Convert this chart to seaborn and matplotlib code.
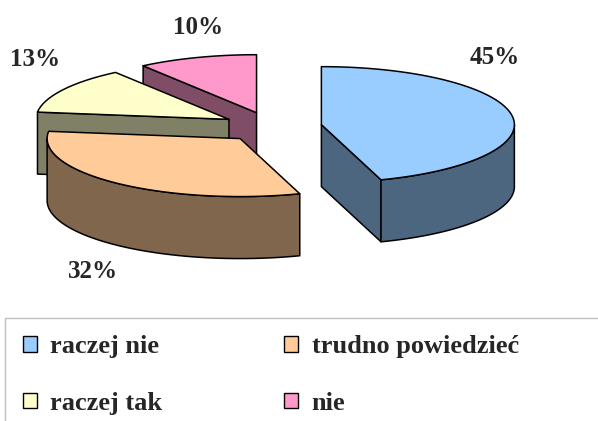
import numpy as np
import matplotlib
matplotlib.use("Agg")
import matplotlib.pyplot as plt
from matplotlib.patches import Polygon, Rectangle, Patch
import seaborn as sns

# data
categories = ["raczej nie", "trudno powiedzieć", "raczej tak", "nie"]
values = [45, 32, 13, 10]
pct_labels = ["45%", "32%", "13%", "10%"]
top_colors = ["#99CCFF", "#FFCC99", "#FFFFCC", "#FF99CC"]
side_colors = ["#4D6680", "#80664D", "#808066", "#804D66"]

# layout (pixels)
W, H = 598, 421
CX, CY = 272, 127        # pie centre
RX, RY = 193, 58         # ellipse radii
DEPTH = 62               # thickness
EXPLODE = 50             # radial explode distance
LABEL_XY = [(495, 57), (93, 272), (35, 60), (198, 27)]

sns.set_style("white")
plt.rcParams["font.family"] = ["Liberation Serif", "DejaVu Serif"]
plt.rcParams["font.weight"] = "bold"

fig = plt.figure(figsize=(W / 100, H / 100), dpi=100)
ax = fig.add_axes([0, 0, 1, 1])
ax.set_xlim(0, W)
ax.set_ylim(H, 0)
ax.axis("off")


def rim(c, ang, z=0):
    a = np.radians(ang)
    return np.column_stack([c[0] + RX * np.cos(a), c[1] - RY * np.sin(a) + z])


# slice angles: start at 12 o'clock, go clockwise
frac = np.array(values) / sum(values) * 360
ends = 90 - np.cumsum(frac)
starts = ends + frac
pieces = []
for i in range(len(values)):
    a1, a2 = ends[i], starts[i]
    mid = np.radians((a1 + a2) / 2)
    c = (CX + EXPLODE * np.cos(mid), CY - EXPLODE * RY / RX * np.sin(mid))
    pieces.append((c[1], i, a1, a2, c))

# back to front
for _, i, a1, a2, c in sorted(pieces):
    kw = dict(edgecolor="black", linewidth=1.1, joinstyle="round")
    # radial walls
    for ang, visible in ((a1, np.cos(np.radians(a1)) > 1e-6),
                         (a2, np.cos(np.radians(a2)) < -1e-6)):
        if visible:
            p_top = rim(c, [ang])[0]
            pts = [c, p_top, (p_top[0], p_top[1] + DEPTH), (c[0], c[1] + DEPTH)]
            ax.add_patch(Polygon(pts, closed=True, facecolor=side_colors[i], **kw))
    # outer curved side (front half only)
    for k in range(-2, 2):
        lo = max(a1, 180 + 360 * k)
        hi = min(a2, 360 + 360 * k)
        if hi > lo:
            t = np.linspace(lo, hi, 60)
            pts = np.vstack([rim(c, t), rim(c, t[::-1], DEPTH)])
            ax.add_patch(Polygon(pts, closed=True, facecolor=side_colors[i], **kw))
    # top face
    t = np.linspace(a1, a2, 120)
    pts = np.vstack([[c], rim(c, t)])
    ax.add_patch(Polygon(pts, closed=True, facecolor=top_colors[i], **kw))

for (x, y), txt in zip(LABEL_XY, pct_labels):
    ax.text(x, y, txt, ha="center", va="center", fontsize=18, fontweight="bold")

# legend frame (cut off by the figure edge like the original)
ax.add_patch(Rectangle((5, 318), 640, 150, facecolor="none",
                       edgecolor="#C0C0C0", linewidth=1.0))

order = [0, 2, 1, 3]
handles = [Patch(facecolor=top_colors[i], edgecolor="black", linewidth=1.0) for i in order]
fig.legend(handles, [categories[i] for i in order], ncol=2, frameon=False,
           loc="upper left", bbox_to_anchor=(10 / W, 1 - 322 / H),
           prop={"size": 19, "weight": "bold"}, handlelength=0.53, handleheight=0.53,
           handletextpad=0.5, columnspacing=4.62, labelspacing=1.27, borderpad=0)

fig.savefig("out.png", dpi=100)
